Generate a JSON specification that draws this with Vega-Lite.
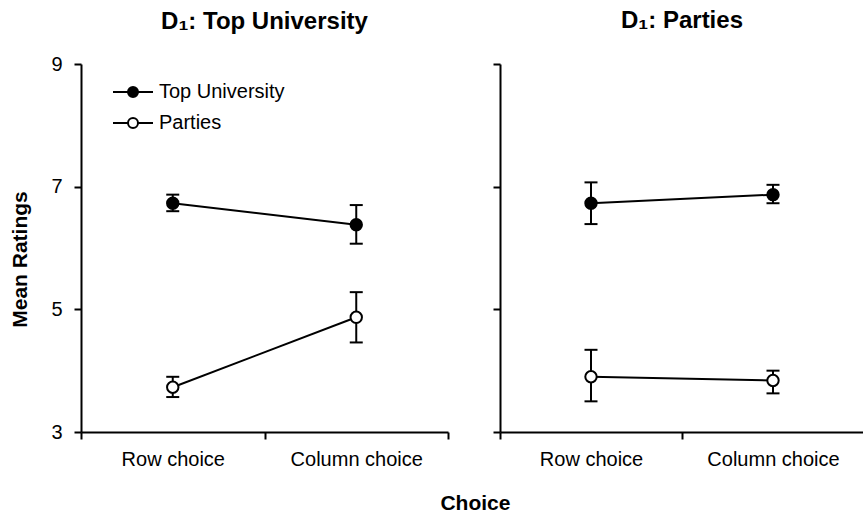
{
  "$schema": "https://vega.github.io/schema/vega-lite/v6.json",
  "background": "white",
  "padding": {"left": 9, "top": 9, "right": 0, "bottom": 0},
  "config": {
    "font": "Liberation Sans",
    "view": {"stroke": null},
    "axis": {
      "domainColor": "black", "domainWidth": 2, "tickColor": "black", "tickWidth": 2, "tickSize": 7,
      "labelColor": "black", "labelFontSize": 20, "labelFont": "Liberation Sans",
      "titleColor": "black", "titleFontSize": 21, "titleFontWeight": "bold", "titleFont": "Liberation Sans",
      "grid": false
    },
    "title": {"color": "black", "font": "Liberation Sans", "fontSize": 24, "fontWeight": "bold"}
  },
  "datasets": {
    "d": [
      {"panel": "Top University", "choice": "Row choice", "series": "Top University", "mean": 6.73, "lo": 6.60, "hi": 6.87},
      {"panel": "Top University", "choice": "Column choice", "series": "Top University", "mean": 6.38, "lo": 6.07, "hi": 6.70},
      {"panel": "Top University", "choice": "Row choice", "series": "Parties", "mean": 3.73, "lo": 3.57, "hi": 3.90},
      {"panel": "Top University", "choice": "Column choice", "series": "Parties", "mean": 4.87, "lo": 4.46, "hi": 5.28},
      {"panel": "Parties", "choice": "Row choice", "series": "Top University", "mean": 6.73, "lo": 6.39, "hi": 7.07},
      {"panel": "Parties", "choice": "Column choice", "series": "Top University", "mean": 6.87, "lo": 6.73, "hi": 7.03},
      {"panel": "Parties", "choice": "Row choice", "series": "Parties", "mean": 3.90, "lo": 3.50, "hi": 4.34},
      {"panel": "Parties", "choice": "Column choice", "series": "Parties", "mean": 3.84, "lo": 3.63, "hi": 4.00}
    ]
  },
  "title": {"text": "Choice", "orient": "bottom", "anchor": "middle", "fontSize": 21, "offset": 24, "dx": 38},
  "spacing": 43,
  "hconcat": [
    {
      "width": 367, "height": 368,
      "title": {"text": "D₁: Top University", "offset": 20, "fontSize": 24},
      "data": {"name": "d"},
      "transform": [{"filter": "datum.panel == 'Top University'"}],
      "encoding": {
        "x": {"field": "choice", "type": "nominal", "sort": ["Row choice", "Column choice"],
              "scale": {"type": "band", "paddingInner": 0, "paddingOuter": 0},
              "axis": {"title": null, "labelAngle": 0, "tickBand": "extent", "labelPadding": 10}}
      },
      "layer": [
        {"mark": {"type": "rule", "color": "black", "strokeWidth": 2},
         "encoding": {"y": {"field": "lo", "type": "quantitative", "scale": {"domain": [3, 9], "nice": false},
                            "axis": {"values": [3, 5, 7, 9], "format": "d", "title": "Mean Ratings", "labelPadding": 12, "titlePadding": 20, "titleY": 195}},
                      "y2": {"field": "hi"}, "detail": {"field": "series"}}},
        {"mark": {"type": "tick", "color": "black", "size": 13, "thickness": 2, "opacity": 1},
         "encoding": {"y": {"field": "lo", "type": "quantitative"}, "detail": {"field": "series"}}},
        {"mark": {"type": "tick", "color": "black", "size": 13, "thickness": 2, "opacity": 1},
         "encoding": {"y": {"field": "hi", "type": "quantitative"}, "detail": {"field": "series"}}},
        {"mark": {"type": "line", "color": "black", "strokeWidth": 2},
         "encoding": {"y": {"field": "mean", "type": "quantitative"}, "detail": {"field": "series"}}},
        {"mark": {"type": "point", "shape": "circle", "filled": true, "size": 130, "stroke": "black", "strokeWidth": 2, "opacity": 1},
         "encoding": {"y": {"field": "mean", "type": "quantitative"},
                      "fill": {"field": "series", "type": "nominal",
                               "scale": {"domain": ["Top University", "Parties"], "range": ["black", "white"]},
                               "legend": {"title": null, "orient": "none", "legendX": 31, "legendY": 7,
                                          "labelFontSize": 20, "labelColor": "black", "labelFont": "Liberation Sans",
                                          "symbolSize": 1600, "symbolStrokeColor": "black", "symbolStrokeWidth": 2,
                                          "symbolType": "M-1,0H-0.25M0.25,0H1M0.25,0A0.25,0.25,0,1,1,-0.25,0A0.25,0.25,0,1,1,0.25,0Z",
                                          "labelOffset": 5, "rowPadding": 0, "padding": 0,
                                          "encode": {"symbols": {"update": {"shape": {"value": "M-1,0H-0.25M0.25,0H1M0.25,0A0.25,0.25,0,1,1,-0.25,0A0.25,0.25,0,1,1,0.25,0Z"}, "stroke": {"value": "black"}, "strokeWidth": {"value": 2}}}}}}}}
      ]
    },
    {
      "width": 364, "height": 368,
      "title": {"text": "D₁: Parties", "offset": 30, "fontSize": 24},
      "data": {"name": "d"},
      "transform": [{"filter": "datum.panel == 'Parties'"}],
      "encoding": {
        "x": {"field": "choice", "type": "nominal", "sort": ["Row choice", "Column choice"],
              "scale": {"type": "band", "paddingInner": 0, "paddingOuter": 0},
              "axis": {"title": null, "labelAngle": 0, "tickBand": "extent", "labelPadding": 10}}
      },
      "layer": [
        {"mark": {"type": "rule", "color": "black", "strokeWidth": 2},
         "encoding": {"y": {"field": "lo", "type": "quantitative", "scale": {"domain": [3, 9], "nice": false},
                            "axis": {"values": [3, 5, 7, 9], "title": null, "labels": false}},
                      "y2": {"field": "hi"}, "detail": {"field": "series"}}},
        {"mark": {"type": "tick", "color": "black", "size": 13, "thickness": 2, "opacity": 1},
         "encoding": {"y": {"field": "lo", "type": "quantitative"}, "detail": {"field": "series"}}},
        {"mark": {"type": "tick", "color": "black", "size": 13, "thickness": 2, "opacity": 1},
         "encoding": {"y": {"field": "hi", "type": "quantitative"}, "detail": {"field": "series"}}},
        {"mark": {"type": "line", "color": "black", "strokeWidth": 2},
         "encoding": {"y": {"field": "mean", "type": "quantitative"}, "detail": {"field": "series"}}},
        {"mark": {"type": "point", "shape": "circle", "filled": true, "size": 130, "stroke": "black", "strokeWidth": 2, "opacity": 1},
         "encoding": {"y": {"field": "mean", "type": "quantitative"},
                      "fill": {"field": "series", "type": "nominal",
                               "scale": {"domain": ["Top University", "Parties"], "range": ["black", "white"]},
                               "legend": null}}}
      ]
    }
  ]
}
